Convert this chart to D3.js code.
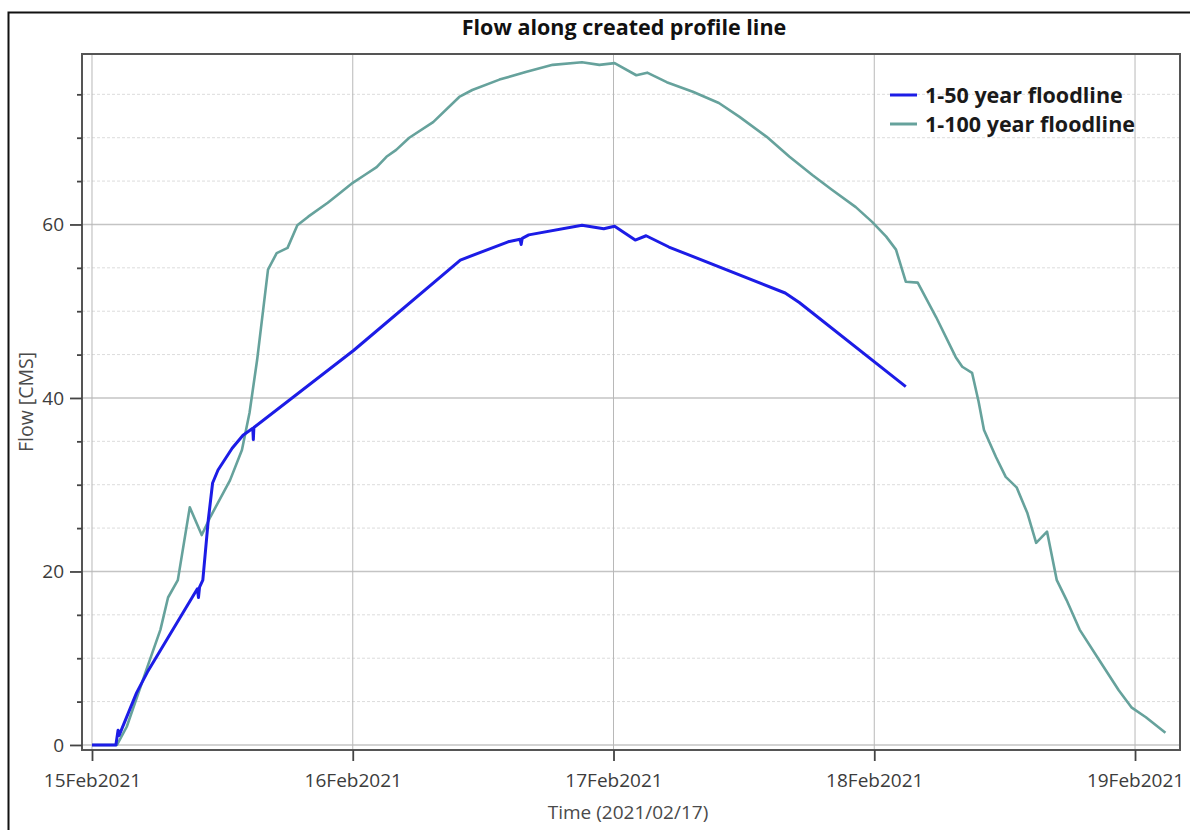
<!DOCTYPE html>
<html>
<head>
<meta charset="utf-8">
<script src="https://cdn.jsdelivr.net/npm/d3@7"></script>
<style>
  body { margin: 0; background: #fff; }
  svg { display: block; font-family: "Open Sans", "Noto Sans", sans-serif; }
</style>
</head>
<body>
<svg width="1190" height="830"></svg>
<script>
//  chart data (hours after 15Feb2021 00:00, flow in CMS)
var series50Hours = [0.0, 2.2, 2.4, 2.5, 4.1, 5.1, 9.7, 9.8, 9.9, 10.2, 10.7, 11.1, 11.6, 12.9, 13.9,
  14.8, 14.85, 14.9, 24.1, 33.9, 38.3, 39.4, 39.5, 39.6, 40.2, 45.1, 47.1, 48.1, 50.0, 51.0, 53.1,
  63.8, 65.1, 74.9];
var series50Flow = [0, 0, 1.7, 1.1, 6.0, 8.4, 18.0, 17.0, 18.2, 19.0, 25.9, 30.2, 31.7, 34.2, 35.7,
  36.5, 35.2, 36.6, 45.5, 55.9, 58.0, 58.3, 57.7, 58.4, 58.8, 59.9, 59.5, 59.8, 58.2, 58.7, 57.4,
  52.1, 51.0, 41.3];

var series100Hours = [0.0, 2.1, 2.3, 3.2, 5.1, 6.3, 7.0, 7.9, 9.0, 10.1, 10.9, 12.7, 13.8, 14.5, 15.2,
  16.2, 17.0, 18.0, 18.9, 19.9, 21.7, 22.8, 24.0, 25.1, 26.2, 27.1, 28.0, 29.2, 31.4, 33.8, 35.0,
  37.5, 40.0, 42.4, 45.1, 46.7, 48.1, 50.1, 51.1, 52.9, 55.3, 57.7, 59.6, 62.1, 64.2, 66.3, 68.1,
  70.3, 71.8, 73.1, 74.0, 74.9, 76.0, 77.7, 79.5, 80.1, 81.0, 81.6, 82.1, 83.2, 84.1, 85.1, 86.1,
  86.9, 87.9, 88.8, 89.7, 90.9, 92.7, 94.5, 95.7, 97.0, 98.8];
var series100Flow = [0, 0, 0, 2.1, 9.0, 13.3, 17.0, 19.0, 27.4, 24.2, 26.3, 30.5, 34.0, 38.3, 44.4,
  54.8, 56.7, 57.3, 59.9, 60.9, 62.5, 63.6, 64.8, 65.7, 66.6, 67.8, 68.6, 70.0, 71.8, 74.7, 75.5,
  76.7, 77.6, 78.4, 78.7, 78.4, 78.6, 77.2, 77.5, 76.4, 75.3, 74.0, 72.4, 70.1, 67.8, 65.7, 64.0,
  62.0, 60.3, 58.6, 57.1, 53.4, 53.3, 49.3, 44.7, 43.6, 42.9, 39.6, 36.3, 33.2, 30.9, 29.7, 26.7,
  23.3, 24.6, 19.0, 16.7, 13.3, 9.8, 6.3, 4.3, 3.2, 1.4];

var seriesNames = ["1-50 year floodline", "1-100 year floodline"];
var seriesColors = ["#1c1ce6", "#66a29c"];

var yMajorTicks = [0, 20, 40, 60];
var yMinorTicks = [5, 10, 15, 25, 30, 35, 45, 50, 55, 65, 70, 75];
var xTickDays = ["2021-02-15", "2021-02-16", "2021-02-17", "2021-02-18", "2021-02-19"];

var chartTitle = "Flow along created profile line";
var xTitle = "Time (2021/02/17)";
var yTitle = "Flow [CMS]";

//  svg selection and sizing
var svg = d3.select("svg");
var plot = { left: 82, right: 1180, top: 54, bottom: 750 };
var startTime = Date.UTC(2021, 1, 15);

function toDate(h) { return new Date(startTime + h * 3600 * 1000); }

function buildSeries(hours, flow) {
  return hours.map(function(h, i) { return { t: toDate(h), v: flow[i] }; });
}

var data = [buildSeries(series50Hours, series50Flow), buildSeries(series100Hours, series100Flow)];
var tickDates = xTickDays.map(function(s) { return new Date(s + "T00:00:00Z"); });

//  scales
var x = d3.scaleUtc()
  .domain([toDate(-0.92), toDate(100.14)])
  .range([plot.left, plot.right]);
var y = d3.scaleLinear()
  .domain([-0.58, 79.65])
  .range([plot.bottom, plot.top]);

//  outer frame
svg.append("rect")
  .attr("x", 8.5).attr("y", 12.5)
  .attr("width", 1200).attr("height", 840)
  .attr("fill", "none").attr("stroke", "#111").attr("stroke-width", 2);

//  gridlines
var grid = svg.append("g");
grid.selectAll(".minor").data(yMinorTicks).enter().append("line")
  .attr("x1", plot.left).attr("x2", plot.right)
  .attr("y1", function(d) { return y(d); }).attr("y2", function(d) { return y(d); })
  .attr("stroke", "#dcdcdc").attr("stroke-width", 1).attr("stroke-dasharray", "3,2");
grid.selectAll(".major").data(yMajorTicks).enter().append("line")
  .attr("x1", plot.left).attr("x2", plot.right)
  .attr("y1", function(d) { return y(d); }).attr("y2", function(d) { return y(d); })
  .attr("stroke", "#c4c4c4").attr("stroke-width", 1.5);
grid.selectAll(".vert").data(tickDates).enter().append("line")
  .attr("x1", function(d) { return x(d); }).attr("x2", function(d) { return x(d); })
  .attr("y1", plot.top).attr("y2", plot.bottom)
  .attr("stroke", "#b8b8b8").attr("stroke-width", 1);

//  series lines
var line = d3.line()
  .x(function(d) { return x(d.t); })
  .y(function(d) { return y(d.v); });

// draw the 1-100 line first so the blue one sits on top
[1, 0].forEach(function(i) {
  svg.append("path")
    .datum(data[i])
    .attr("d", line)
    .attr("fill", "none")
    .attr("stroke", seriesColors[i])
    .attr("stroke-width", i == 0 ? 3 : 2.6)
    .attr("stroke-linejoin", "round");
});

//  plot frame
svg.append("rect")
  .attr("x", plot.left).attr("y", plot.top)
  .attr("width", plot.right - plot.left).attr("height", plot.bottom - plot.top)
  .attr("fill", "none").attr("stroke", "#555").attr("stroke-width", 2);

//  axes
var tickColor = "#444";
var yAxis = svg.append("g")
  .attr("transform", "translate(" + plot.left + ",0)")
  .call(d3.axisLeft(y).tickValues(yMajorTicks).tickSize(12).tickPadding(6).tickFormat(d3.format("d")));
var yMinor = svg.append("g")
  .attr("transform", "translate(" + plot.left + ",0)")
  .call(d3.axisLeft(y).tickValues(yMinorTicks).tickSize(5).tickFormat(""));
var xAxis = svg.append("g")
  .attr("transform", "translate(0," + plot.bottom + ")")
  .call(d3.axisBottom(x).tickValues(tickDates).tickSize(11).tickPadding(13).tickFormat(d3.utcFormat("%d%b%Y")));

[yAxis, yMinor, xAxis].forEach(function(a) {
  a.select(".domain").remove();
  a.selectAll("line").attr("stroke", tickColor).attr("stroke-width", 1.8);
  a.selectAll("text").attr("fill", "#3c3c3c").style("font-size", "19px")
    .style("font-family", "'Open Sans', 'Noto Sans', sans-serif");
});

//  titles
svg.append("text")
  .attr("x", 624).attr("y", 35)
  .attr("text-anchor", "middle")
  .style("font-size", "21.5px").style("font-weight", "bold").attr("fill", "#111")
  .text(chartTitle);

svg.append("text")
  .attr("x", 628).attr("y", 819)
  .attr("text-anchor", "middle")
  .style("font-size", "19px").attr("fill", "#4a4a4a")
  .text(xTitle);

svg.append("text")
  .attr("transform", "translate(33,402) rotate(-90)")
  .attr("text-anchor", "middle")
  .style("font-size", "19.5px").attr("fill", "#4a4a4a")
  .text(yTitle);

//  legend
var legend = svg.append("g").attr("transform", "translate(890,95)");
seriesNames.forEach(function(name, i) {
  var row = legend.append("g").attr("transform", "translate(0," + (i * 29) + ")");
  row.append("line")
    .attr("x1", 0).attr("x2", 27).attr("y1", 0).attr("y2", 0)
    .attr("stroke", seriesColors[i]).attr("stroke-width", 3);
  row.append("text")
    .attr("x", 35).attr("y", 7.5)
    .style("font-size", "21.5px").style("font-weight", "bold").attr("fill", "#1a1a1a")
    .text(name);
});
</script>
</body>
</html>
